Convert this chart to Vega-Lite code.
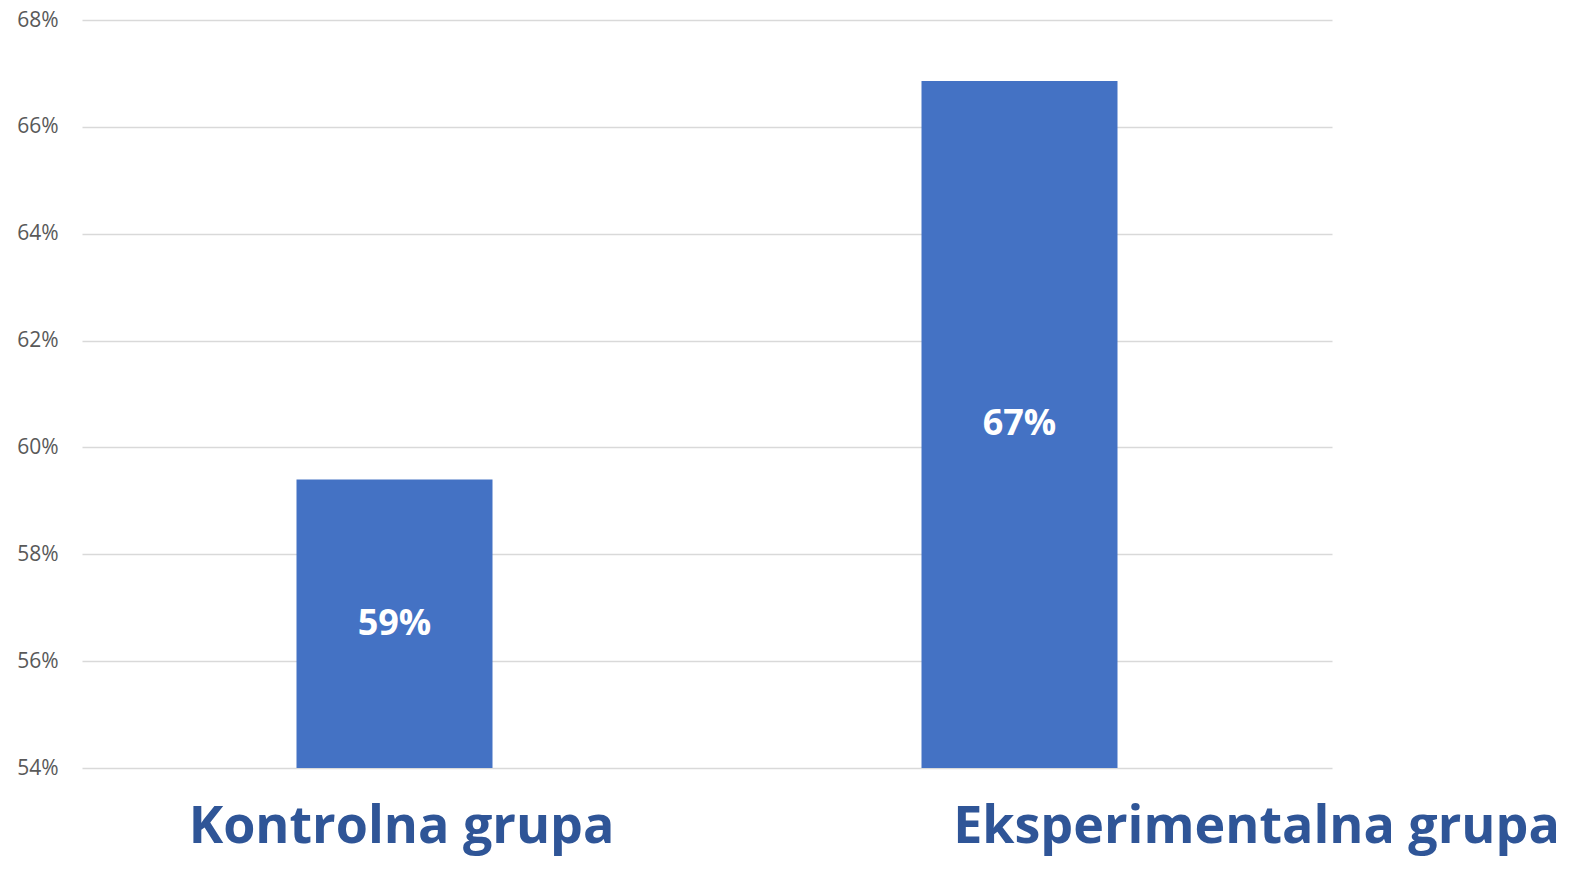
{
  "$schema": "https://vega.github.io/schema/vega-lite/v6.json",
  "width": 1250,
  "height": 748,
  "autosize": {"type": "none"},
  "padding": {"left": 82, "top": 20, "right": 256, "bottom": 101},
  "background": "white",
  "config": {"view": {"stroke": null}},
  "data": {"values": [
    {"grupa": "Kontrolna grupa", "value": 0.594},
    {"grupa": "Eksperimentalna grupa", "value": 0.6686}
  ]},
  "encoding": {
    "x": {
      "field": "grupa", "type": "nominal", "sort": null,
      "scale": {"paddingInner": 0.6864, "paddingOuter": 0.3432},
      "axis": {
        "title": null, "domain": false, "ticks": false, "grid": false,
        "labelAngle": 0,
        "labelFont": "Open Sans", "labelFontWeight": "bold", "labelFontSize": 52,
        "labelColor": "#2F5597", "labelPadding": 33, "labelLimit": 0,
        "labelOffset": {"condition": {"test": "datum.value === 'Eksperimentalna grupa'", "value": 237}, "value": 7},
        "labelOverlap": false, "labelBound": false, "labelFlush": false
      }
    }
  },
  "layer": [
    {
      "mark": {"type": "bar", "color": "#4472C4"},
      "encoding": {
        "y": {
          "field": "value", "type": "quantitative",
          "scale": {"domain": [0.54, 0.68], "zero": false, "nice": false},
          "axis": {
            "title": null, "domain": false, "ticks": false,
            "values": [0.54, 0.56, 0.58, 0.60, 0.62, 0.64, 0.66, 0.68],
            "format": ".0%",
            "labelFont": "Open Sans", "labelFontSize": 21, "labelColor": "#595959",
            "labelPadding": 24,
            "grid": true, "gridColor": "#d9d9d9", "gridWidth": 1.5
          }
        },
        "y2": {"datum": 0.54}
      }
    },
    {
      "transform": [{"calculate": "(datum.value + 0.54) / 2", "as": "mid"}],
      "mark": {"type": "text", "color": "white", "font": "Open Sans", "fontWeight": "bold", "fontSize": 36, "baseline": "middle"},
      "encoding": {
        "y": {"field": "mid", "type": "quantitative"},
        "text": {"field": "value", "type": "quantitative", "format": ".0%"}
      }
    }
  ]
}
